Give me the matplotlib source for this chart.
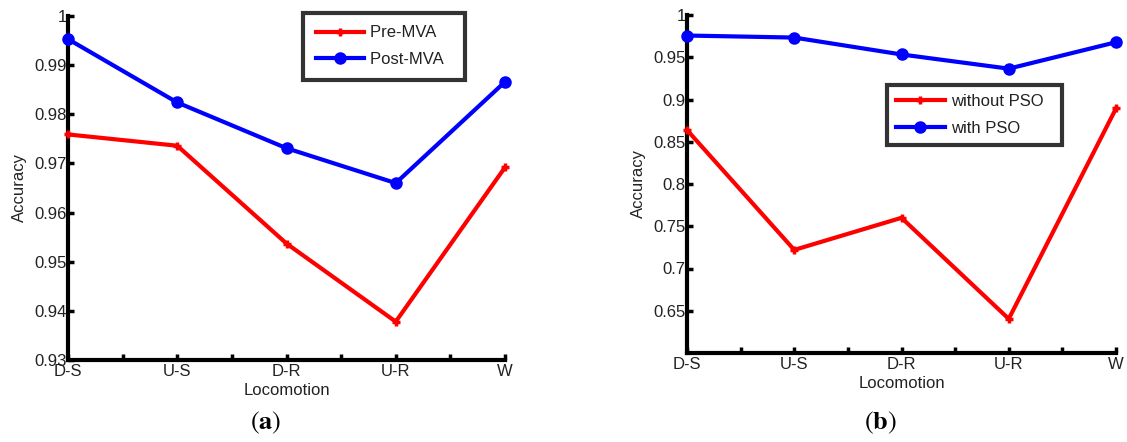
import matplotlib
matplotlib.use("Agg")
import matplotlib.pyplot as plt
import numpy as np

plt.rcParams['font.family'] = ['Liberation Sans', 'DejaVu Sans']
plt.rcParams['mathtext.fontset'] = 'stix'

locomotion = ['D-S', 'U-S', 'D-R', 'U-R', 'W']

# panel (a)
pre_mva = [0.9759, 0.9736, 0.9537, 0.9378, 0.9692]
post_mva = [0.9953, 0.9824, 0.9731, 0.9660, 0.9866]
yticks_a = [0.93, 0.94, 0.95, 0.96, 0.97, 0.98, 0.99, 1.0]
yticklabels_a = ['0.93', '0.94', '0.95', '0.96', '0.97', '0.98', '0.99', '1']

# panel (b)
without_pso = [0.8639, 0.7220, 0.7600, 0.6404, 0.8894]
with_pso = [0.9757, 0.9733, 0.9533, 0.9365, 0.9678]
yticks_b = [0.65, 0.7, 0.75, 0.8, 0.85, 0.9, 0.95, 1.0]
yticklabels_b = ['0.65', '0.7', '0.75', '0.8', '0.85', '0.9', '0.95', '1']

FS = 12
RED = '#ff0000'
BLUE = '#0000ff'

fig = plt.figure(figsize=(11.27, 4.42), dpi=100)
ax1 = fig.add_axes([68 / 1127, 1 - 360 / 442, 437 / 1127, 344 / 442])
ax2 = fig.add_axes([687 / 1127, 1 - 353 / 442, 429 / 1127, 338 / 442])


def style_axis(ax, ylim, yticks, yticklabels, ylabel_x):
    x = np.arange(len(locomotion))
    for s in ['top', 'right']:
        ax.spines[s].set_visible(False)
    for s in ['left', 'bottom']:
        ax.spines[s].set_linewidth(3)
        ax.spines[s].set_capstyle('projecting')
    ax.set_xlim(0, len(locomotion) - 1)
    ax.set_ylim(*ylim)
    ax.set_xticks(x)
    ax.set_xticklabels(locomotion, fontsize=FS)
    ax.set_xticks(x[:-1] + 0.5, minor=True)
    ax.set_yticks(yticks)
    ax.set_yticklabels(yticklabels, fontsize=FS)
    ax.tick_params(axis='both', which='both', direction='in', length=4,
                   width=2.5, colors='black', labelcolor='#222222')
    ax.tick_params(axis='x', pad=3)
    ax.tick_params(axis='y', pad=1)
    ax.set_xlabel('Locomotion', fontsize=FS, labelpad=3, color='#222222')
    ax.set_ylabel('Accuracy', fontsize=FS, color='#222222')
    ax.yaxis.set_label_coords(ylabel_x, 0.5)


style_axis(ax1, (0.93, 1.0), yticks_a, yticklabels_a, -0.095)
style_axis(ax2, (0.6, 1.0), yticks_b, yticklabels_b, -0.095)

x = np.arange(len(locomotion))
ax1.plot(x, pre_mva, color=RED, lw=3, marker='+', ms=6, mew=2.5,
         label='Pre-MVA  ', clip_on=False, zorder=3)
ax1.plot(x, post_mva, color=BLUE, lw=3, marker='o', ms=7, mew=2,
         mfc=BLUE, label='Post-MVA  ', clip_on=False, zorder=3)
ax2.plot(x, without_pso, color=RED, lw=3, marker='+', ms=6, mew=2.5,
         label='without PSO  ', clip_on=False, zorder=3)
ax2.plot(x, with_pso, color=BLUE, lw=3, marker='o', ms=7, mew=2,
         mfc=BLUE, label='with PSO  ', clip_on=False, zorder=3)

for ax, anchor, bp in [(ax1, ((303 - 68) / 437, (360 - 13) / 344), 0.75),
                       (ax2, ((887 - 687) / 429, (353 - 85) / 338), 0.55)]:
    leg = ax.legend(loc='upper left', bbox_to_anchor=anchor, fontsize=FS,
                    frameon=True, fancybox=False, handlelength=2.9,
                    borderpad=bp, labelspacing=0.7, handletextpad=0.4,
                    borderaxespad=0)
    leg.get_frame().set_edgecolor('black')
    leg.get_frame().set_linewidth(3)
    for t in leg.get_texts():
        t.set_color('#222222')

fig.text(266 / 1127, 1 - 423 / 442, r'$(\mathbf{a})$', fontsize=19,
         ha='center', va='center')
fig.text(880 / 1127, 1 - 423 / 442, r'$(\mathbf{b})$', fontsize=19,
         ha='center', va='center')

fig.savefig('out.png', dpi=100)
